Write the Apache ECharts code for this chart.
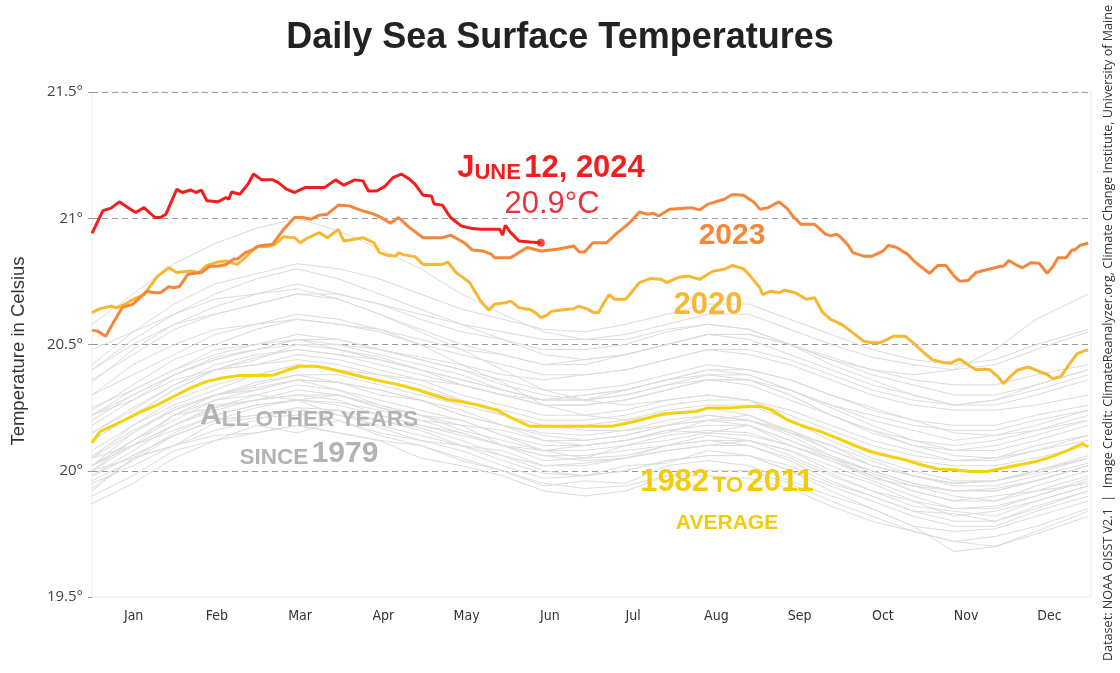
<!DOCTYPE html>
<html>
<head>
<meta charset="utf-8">
<script src="https://cdn.jsdelivr.net/npm/echarts@6/dist/echarts.min.js"></script>
<style>html,body{margin:0;padding:0;background:#fff}#c{width:1120px;height:673px}</style>
</head>
<body>
<div id="c"></div>
<script>
// ---------- DATA ----------
const months = ['Jan','Feb','Mar','Apr','May','Jun','Jul','Aug','Sep','Oct','Nov','Dec'];
const yTicks = [19.5, 20, 20.5, 21, 21.5];

// 2024 (day of year, °C)
const days2024 = [0,4,7,10,14,16,19,23,25,27,31,33,36,38,40,42,46,49,50,51,54,57,59,62,66,68,71,74,76,78,85,89,92,96,99,101,104,107,110,113,116,118,121,124,125,128,131,135,139,142,149,150,151,153,156,160,164];
const temps2024 = [20.94,21.03,21.04,21.065,21.036,21.023,21.042,21.003,21.003,21.016,21.115,21.102,21.112,21.102,21.111,21.069,21.065,21.082,21.075,21.104,21.095,21.135,21.175,21.152,21.152,21.142,21.115,21.102,21.112,21.122,21.122,21.152,21.131,21.152,21.148,21.108,21.108,21.126,21.161,21.175,21.155,21.135,21.091,21.088,21.056,21.052,21.003,20.969,20.959,20.956,20.956,20.933,20.972,20.943,20.91,20.906,20.903];

// 2023
const days2023 = [0,2,5,8,11,15,20,23,25,28,30,32,35,40,43,46,49,52,53,56,59,61,66,70,74,77,80,83,86,90,94,98,102,105,109,112,116,121,128,131,136,139,143,146,147,153,159,164,170,176,178,180,183,188,192,195,197,200,203,205,207,211,219,222,225,231,234,238,242,244,247,251,254,256,259,264,268,270,272,273,276,278,282,285,289,291,294,298,301,306,309,312,315,317,320,323,325,332,333,335,338,340,343,346,349,351,353,356,358,359,361,364];
const temps2023 = [20.557,20.553,20.533,20.59,20.646,20.66,20.71,20.705,20.705,20.729,20.725,20.73,20.778,20.785,20.81,20.81,20.817,20.84,20.837,20.864,20.877,20.89,20.897,20.956,21.003,21.003,20.996,21.012,21.016,21.052,21.049,21.032,21.02,21.007,20.98,21.003,20.963,20.923,20.923,20.933,20.903,20.874,20.87,20.857,20.844,20.844,20.884,20.87,20.877,20.89,20.866,20.866,20.903,20.903,20.943,20.969,20.989,21.025,21.016,21.02,21.009,21.036,21.042,21.033,21.056,21.075,21.094,21.091,21.062,21.036,21.042,21.065,21.038,21.009,20.976,20.976,20.937,20.93,20.937,20.93,20.897,20.864,20.85,20.85,20.87,20.893,20.884,20.857,20.824,20.782,20.813,20.813,20.771,20.751,20.753,20.785,20.791,20.81,20.81,20.833,20.813,20.804,20.824,20.822,20.782,20.808,20.844,20.844,20.874,20.874,20.893,20.901,20.933];

// 2020
const days2020 = [0,3,7,9,13,15,19,24,28,31,36,39,42,46,49,53,56,60,64,67,70,74,76,78,83,86,90,92,99,103,105,108,111,112,114,118,121,128,130,133,138,142,145,147,151,153,156,158,160,162,164,166,168,170,173,176,178,181,183,185,187,189,191,195,197,200,204,208,210,214,218,222,225,227,231,234,238,241,244,245,248,251,253,257,261,264,267,270,274,278,282,285,288,290,293,297,300,304,307,311,314,317,321,323,326,328,331,333,335,338,342,345,349,351,354,357,360,363,364];
const temps2020 = [20.626,20.642,20.652,20.645,20.665,20.679,20.698,20.771,20.804,20.785,20.791,20.785,20.813,20.827,20.831,20.817,20.844,20.888,20.888,20.897,20.927,20.923,20.903,20.917,20.943,20.923,20.956,20.91,20.923,20.903,20.864,20.853,20.85,20.864,20.855,20.848,20.817,20.817,20.827,20.785,20.745,20.672,20.636,20.659,20.665,20.672,20.646,20.642,20.639,20.626,20.606,20.615,20.632,20.635,20.639,20.642,20.652,20.64,20.628,20.626,20.665,20.698,20.679,20.679,20.705,20.745,20.761,20.758,20.745,20.765,20.771,20.758,20.778,20.791,20.798,20.813,20.8,20.765,20.725,20.698,20.711,20.705,20.715,20.705,20.679,20.685,20.626,20.599,20.579,20.546,20.513,20.507,20.507,20.517,20.533,20.533,20.507,20.467,20.44,20.429,20.427,20.443,20.413,20.4,20.402,20.4,20.373,20.345,20.367,20.398,20.411,20.398,20.381,20.365,20.373,20.421,20.464,20.477,20.477];

// 1982 to 2011 average
const daysAvg = [0,3,7,11,17,24,30,36,42,48,54,60,66,72,76,82,87,94,100,106,112,119,124,130,136,142,148,154,160,172,190,197,203,209,215,221,225,233,239,244,248,254,260,266,272,278,284,290,296,303,309,315,321,327,333,339,345,351,357,362,364];
const tempsAvg = [20.11,20.156,20.176,20.196,20.229,20.262,20.295,20.328,20.354,20.368,20.377,20.377,20.378,20.401,20.414,20.414,20.403,20.385,20.368,20.354,20.341,20.321,20.302,20.282,20.271,20.258,20.24,20.205,20.176,20.176,20.176,20.192,20.209,20.226,20.231,20.235,20.249,20.249,20.253,20.255,20.242,20.202,20.176,20.156,20.13,20.103,20.077,20.06,20.046,20.024,20.007,20.004,19.997,19.997,20.011,20.024,20.037,20.057,20.083,20.107,20.094];

// All other years since 1979 (sampled every 15 days)
const grayDays = [0,15,30,45,60,75,90,105,120,135,150,165,180,195,210,225,240,255,270,285,300,315,330,345,364];
const grayYears = [1980,1981,1982,1983,1984,1985,1986,1987,1988,1989,1990,1991,1992,1993,1994,1995,1996,1997,1998,1999,2000,2001,2002,2003,2004,2005,2006,2007,2008,2009,2010,2011,2012,2013,2014,2015,2016,2017,2018,2019,2021,2022];
const grayTemps = [
 [20.02,20.10,20.16,20.22,20.26,20.28,20.26,20.22,20.18,20.14,20.10,20.06,20.06,20.08,20.10,20.12,20.10,20.04,19.96,19.90,19.84,19.80,19.80,19.85,19.92],
 [19.96,20.04,20.14,20.20,20.22,20.24,20.22,20.18,20.14,20.10,20.06,20.00,19.98,20.00,20.04,20.06,20.06,20.00,19.92,19.85,19.78,19.68,19.70,19.76,19.84],
 [19.93,20.05,20.10,20.19,20.21,20.22,20.24,20.17,20.12,20.10,20.04,19.99,19.98,20.02,20.03,20.08,20.06,20.02,19.95,19.90,19.84,19.83,19.80,19.86,19.92],
 [20.05,20.10,20.22,20.25,20.30,20.28,20.30,20.25,20.20,20.18,20.10,20.08,20.05,20.10,20.12,20.15,20.18,20.10,20.05,19.98,19.92,19.88,19.90,19.92,19.95],
 [19.87,19.95,20.05,20.12,20.15,20.18,20.15,20.12,20.05,20.02,19.98,19.92,19.90,19.92,19.98,19.98,19.97,19.93,19.86,19.80,19.76,19.72,19.74,19.78,19.85],
 [19.90,19.98,20.08,20.12,20.18,20.15,20.20,20.14,20.10,20.04,20.00,19.94,19.96,19.95,20.02,20.04,20.02,19.96,19.90,19.85,19.78,19.76,19.77,19.82,19.88],
 [19.98,20.06,20.14,20.20,20.25,20.28,20.22,20.20,20.17,20.12,20.06,20.02,20.03,20.05,20.08,20.10,20.12,20.06,19.99,19.92,19.88,19.85,19.86,19.90,19.96],
 [20.05,20.15,20.25,20.30,20.35,20.38,20.35,20.30,20.28,20.22,20.18,20.15,20.14,20.16,20.18,20.22,20.20,20.15,20.10,20.02,19.98,19.95,19.96,19.99,20.05],
 [20.02,20.10,20.18,20.25,20.28,20.30,20.28,20.22,20.18,20.15,20.10,20.04,20.05,20.06,20.10,20.14,20.12,20.08,20.00,19.95,19.88,19.82,19.84,19.88,19.94],
 [19.95,20.02,20.10,20.16,20.20,20.25,20.20,20.15,20.12,20.08,20.02,19.97,19.98,20.00,20.04,20.06,20.06,20.00,19.94,19.88,19.82,19.78,19.78,19.84,19.90],
 [20.02,20.12,20.20,20.28,20.32,20.36,20.32,20.26,20.22,20.18,20.16,20.12,20.10,20.12,20.15,20.20,20.18,20.12,20.05,20.00,19.95,19.92,19.93,19.96,20.02],
 [20.00,20.10,20.18,20.26,20.28,20.30,20.30,20.25,20.22,20.20,20.14,20.08,20.10,20.12,20.16,20.15,20.14,20.10,20.04,19.97,19.94,19.90,19.88,19.92,19.98],
 [20.00,20.05,20.10,20.14,20.15,20.18,20.15,20.12,20.10,20.05,20.00,19.95,19.93,19.94,19.98,20.00,20.00,19.95,19.88,19.82,19.76,19.72,19.70,19.75,19.82],
 [19.92,20.05,20.15,20.22,20.26,20.28,20.27,20.24,20.20,20.15,20.10,20.06,20.04,20.05,20.10,20.12,20.12,20.08,20.02,19.96,19.90,19.85,19.85,19.90,19.97],
 [19.98,20.08,20.18,20.24,20.28,20.32,20.30,20.26,20.22,20.16,20.12,20.08,20.08,20.10,20.14,20.16,20.15,20.10,20.04,19.98,19.92,19.88,19.88,19.94,20.00],
 [20.02,20.12,20.22,20.30,20.33,20.36,20.35,20.32,20.28,20.22,20.18,20.12,20.12,20.14,20.18,20.20,20.22,20.16,20.08,20.02,19.98,19.94,19.94,19.98,20.03],
 [19.98,20.06,20.14,20.20,20.22,20.25,20.24,20.20,20.16,20.10,20.08,20.02,20.02,20.05,20.08,20.10,20.10,20.05,19.98,19.92,19.86,19.84,19.82,19.88,19.94],
 [20.05,20.18,20.26,20.32,20.38,20.42,20.40,20.38,20.36,20.34,20.30,20.28,20.30,20.32,20.36,20.40,20.40,20.36,20.30,20.25,20.20,20.15,20.14,20.16,20.22],
 [20.30,20.42,20.50,20.56,20.58,20.60,20.58,20.55,20.50,20.42,20.35,20.26,20.22,20.20,20.22,20.25,20.22,20.15,20.08,20.02,19.98,19.95,19.96,20.00,20.05],
 [20.00,20.12,20.22,20.28,20.30,20.34,20.32,20.28,20.24,20.20,20.14,20.10,20.10,20.12,20.16,20.18,20.18,20.12,20.06,19.99,19.94,19.92,19.92,19.96,20.02],
 [20.02,20.15,20.24,20.30,20.32,20.36,20.35,20.32,20.28,20.24,20.18,20.14,20.12,20.14,20.18,20.20,20.20,20.16,20.10,20.04,19.98,19.95,19.96,20.00,20.05],
 [20.12,20.22,20.32,20.40,20.42,20.46,20.44,20.40,20.36,20.30,20.26,20.22,20.22,20.24,20.28,20.30,20.28,20.24,20.18,20.12,20.08,20.04,20.05,20.10,20.14],
 [20.18,20.28,20.38,20.45,20.48,20.50,20.48,20.45,20.40,20.36,20.32,20.28,20.28,20.30,20.34,20.36,20.36,20.30,20.22,20.16,20.12,20.10,20.12,20.16,20.20],
 [20.25,20.32,20.40,20.46,20.50,20.52,20.50,20.46,20.42,20.38,20.32,20.28,20.30,20.32,20.36,20.38,20.38,20.32,20.25,20.18,20.12,20.08,20.08,20.12,20.18],
 [20.20,20.30,20.38,20.44,20.48,20.52,20.48,20.44,20.40,20.34,20.30,20.26,20.26,20.28,20.32,20.36,20.34,20.28,20.22,20.16,20.10,20.08,20.10,20.14,20.20],
 [20.22,20.32,20.40,20.48,20.50,20.54,20.52,20.48,20.44,20.40,20.34,20.30,20.28,20.30,20.34,20.38,20.36,20.30,20.22,20.15,20.10,20.06,20.05,20.08,20.12],
 [20.15,20.25,20.34,20.40,20.45,20.48,20.46,20.42,20.38,20.34,20.30,20.26,20.26,20.28,20.32,20.36,20.36,20.32,20.26,20.20,20.16,20.12,20.14,20.18,20.24],
 [20.22,20.28,20.36,20.40,20.42,20.44,20.42,20.38,20.34,20.28,20.22,20.18,20.16,20.16,20.20,20.22,20.20,20.14,20.06,20.00,19.95,19.92,19.92,19.96,20.02],
 [20.06,20.16,20.24,20.30,20.34,20.38,20.38,20.34,20.30,20.26,20.22,20.18,20.18,20.20,20.24,20.26,20.26,20.20,20.14,20.08,20.04,20.02,20.02,20.05,20.10],
 [20.12,20.22,20.32,20.40,20.44,20.50,20.50,20.48,20.45,20.42,20.38,20.36,20.38,20.40,20.44,20.48,20.46,20.42,20.36,20.30,20.26,20.24,20.24,20.26,20.30],
 [20.35,20.48,20.58,20.65,20.70,20.72,20.68,20.62,20.55,20.48,20.40,20.32,20.28,20.26,20.28,20.30,20.28,20.20,20.12,20.05,20.00,19.96,19.96,20.00,20.06],
 [20.08,20.18,20.28,20.34,20.38,20.42,20.40,20.36,20.32,20.28,20.24,20.20,20.20,20.22,20.26,20.28,20.28,20.22,20.16,20.10,20.06,20.04,20.04,20.08,20.14],
 [20.15,20.24,20.34,20.42,20.46,20.48,20.46,20.44,20.40,20.36,20.32,20.28,20.28,20.32,20.36,20.40,20.38,20.32,20.26,20.22,20.18,20.16,20.16,20.20,20.24],
 [20.22,20.30,20.38,20.44,20.48,20.52,20.52,20.48,20.44,20.40,20.36,20.32,20.32,20.34,20.38,20.42,20.40,20.36,20.30,20.24,20.20,20.18,20.18,20.22,20.26],
 [20.24,20.34,20.44,20.50,20.56,20.60,20.58,20.56,20.52,20.48,20.46,20.42,20.44,20.46,20.50,20.54,20.54,20.50,20.45,20.40,20.36,20.34,20.34,20.38,20.42],
 [20.36,20.46,20.56,20.62,20.66,20.70,20.70,20.66,20.62,20.58,20.55,20.52,20.52,20.54,20.58,20.62,20.62,20.56,20.50,20.45,20.42,20.40,20.42,20.48,20.55],
 [20.58,20.70,20.82,20.90,20.96,21.00,20.95,20.88,20.80,20.70,20.62,20.55,20.52,20.52,20.56,20.58,20.56,20.50,20.42,20.36,20.30,20.26,20.26,20.30,20.36],
 [20.40,20.52,20.62,20.70,20.76,20.80,20.76,20.70,20.64,20.58,20.52,20.46,20.44,20.46,20.50,20.54,20.52,20.46,20.40,20.34,20.30,20.26,20.28,20.32,20.38],
 [20.30,20.38,20.46,20.54,20.58,20.62,20.60,20.56,20.50,20.46,20.42,20.38,20.38,20.40,20.44,20.48,20.48,20.44,20.38,20.32,20.28,20.26,20.28,20.34,20.40],
 [20.42,20.55,20.66,20.74,20.78,20.82,20.80,20.76,20.70,20.64,20.60,20.56,20.55,20.58,20.62,20.66,20.66,20.60,20.54,20.48,20.44,20.42,20.44,20.50,20.56],
 [20.48,20.55,20.62,20.68,20.70,20.74,20.70,20.66,20.60,20.55,20.52,20.48,20.48,20.50,20.55,20.58,20.56,20.50,20.44,20.38,20.34,20.30,20.30,20.34,20.40],
 [20.40,20.50,20.58,20.62,20.66,20.70,20.68,20.62,20.56,20.50,20.46,20.42,20.42,20.46,20.50,20.54,20.54,20.50,20.44,20.40,20.38,20.40,20.48,20.60,20.70]
];

// ---------- CHART ----------
const zip = (d, v) => d.map((x, i) => [x, v[i]]);
const chart = echarts.init(document.getElementById('c'), null, {renderer: 'canvas'});

const series = [];
grayTemps.forEach((vals, i) => {
  series.push({
    name: String(grayYears[i]), type: 'line', xAxisIndex: 0, data: zip(grayDays, vals),
    showSymbol: false, silent: true, z: 1,
    lineStyle: {color: '#dcdcdc', width: 1}
  });
});
series.push({name: '1982-2011 avg', type: 'line', data: zip(daysAvg, tempsAvg), showSymbol: false, z: 3,
  lineStyle: {color: '#f5d10c', width: 3}});
series.push({name: '2020', type: 'line', data: zip(days2020, temps2020), showSymbol: false, z: 4,
  lineStyle: {color: '#f7b733', width: 3}});
series.push({name: '2023', type: 'line', data: zip(days2023, temps2023), showSymbol: false, z: 5,
  lineStyle: {color: '#f5873a', width: 3}});
series.push({name: '2024', type: 'line', data: zip(days2024, temps2024), showSymbol: false, z: 6,
  lineStyle: {color: '#f41c1c', width: 3}});
series.push({name: '2024 last', type: 'scatter', z: 7,
  data: [[days2024[days2024.length - 1], temps2024[temps2024.length - 1]]],
  symbolSize: 8, itemStyle: {color: '#f41c1c'}});

const F = 'Liberation Sans, Arial, sans-serif';
const txt = (x, y, rich, text) => ({type: 'text', x: x, y: y, z: 100, silent: true,
  style: {text: text, rich: rich, align: 'center', verticalAlign: 'middle'}});
const capRich = (col, big, small) => ({
  b: {fontFamily: F, fontWeight: 'bold', fontSize: big, fill: col, verticalAlign: 'bottom', lineHeight: big + 4},
  s: {fontFamily: F, fontWeight: 'bold', fontSize: small, fill: col, verticalAlign: 'bottom', lineHeight: small + 5}
});

const option = {
  animation: false,
  backgroundColor: '#fff',
  title: {
    text: 'Daily Sea Surface Temperatures', left: 'center', top: 15,
    textStyle: {fontFamily: F, fontSize: 36, fontWeight: 'bold', color: '#222'}
  },
  grid: {left: 92, right: 29, top: 92, bottom: 76, show: true, borderColor: '#ececec', borderWidth: 1},
  xAxis: [
    {type: 'value', min: 0, max: 365, show: false},
    {type: 'category', data: months, boundaryGap: true, position: 'bottom',
     axisLine: {show: false}, axisTick: {show: false}, splitLine: {show: false},
     axisLabel: {color: '#333', fontSize: 14, margin: 12, fontFamily: "'Liberation Sans Narrow', 'DejaVu Sans Condensed', sans-serif"}}
  ],
  yAxis: {
    type: 'value', min: yTicks[0], max: yTicks[yTicks.length - 1], interval: 0.5,
    axisLine: {show: false},
    axisTick: {show: true, length: 4, lineStyle: {color: '#999'}},
    axisLabel: {color: '#444', fontSize: 15, margin: 9, fontFamily: "'Open Sans', sans-serif",
      formatter: v => v + '°'},
    splitLine: {show: true, lineStyle: {type: [6, 4], color: ['rgba(0,0,0,0)', '#9a9a9a', '#9a9a9a', '#9a9a9a', '#9a9a9a'], width: 1}}
  },
  series: series,
  graphic: [
    {type: 'text', x: 19, y: 351, rotation: Math.PI / 2, z: 100, silent: true,
     style: {text: 'Temperature in Celsius', align: 'center', verticalAlign: 'middle', fontFamily: F, fontSize: 18.5, fill: '#333'}},
    txt(551, 166, capRich('#f01e1e', 31, 22), '{b|J}{s|UNE} {b|12, 2024}'),
    txt(552, 204, {r: {fontFamily: F, fontSize: 31, fill: '#e8333a'}}, '{r|20.9°C}'),
    txt(732, 236, {r: {fontFamily: F, fontSize: 30, fontWeight: 'bold', fill: '#f5873a'}}, '{r|2023}'),
    txt(708, 305, {r: {fontFamily: F, fontSize: 31, fontWeight: 'bold', fill: '#f7b733'}}, '{r|2020}'),
    txt(309, 414, capRich('#b3b3b3', 30, 22.5), '{b|A}{s|LL OTHER YEARS}'),
    txt(309, 452, capRich('#b3b3b3', 30, 22.5), '{s|SINCE} {b|1979}'),
    txt(727, 480, capRich('#f2cc0c', 31, 22.5), '{b|1982} {s|TO} {b|2011}'),
    txt(727, 521, capRich('#f2cc0c', 21, 21), '{s|AVERAGE}'),
    {type: 'text', x: 1108, y: 333, rotation: Math.PI / 2, z: 100, silent: true,
     style: {text: 'Dataset: NOAA OISST V2.1  |  Image Credit: ClimateReanalyzer.org, Climate Change Institute, University of Maine',
       align: 'center', verticalAlign: 'middle', fontFamily: "'Open Sans', sans-serif", fontSize: 12.6, fill: '#333'}}
  ]
};
chart.setOption(option);
</script>
</body>
</html>
